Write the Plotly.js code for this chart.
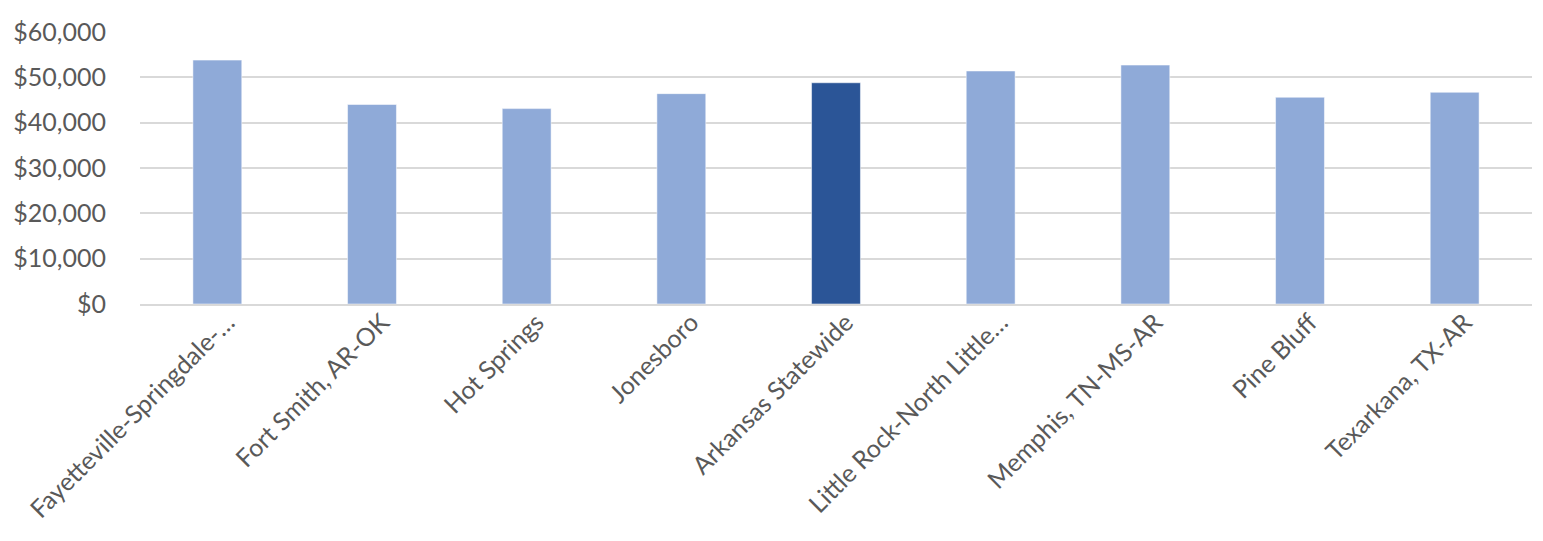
<!DOCTYPE html>
<html>
<head>
<meta charset="utf-8">
<script src="https://cdn.plot.ly/plotly-3.0.1.min.js"></script>
<style>html,body{margin:0;padding:0;background:#fff;}#chart{width:1543px;height:541px;}</style>
</head>
<body>
<div id="chart"></div>
<script>
const categories = ["Fayetteville-Springdale-…", "Fort Smith, AR-OK", "Hot Springs", "Jonesboro", "Arkansas Statewide", "Little Rock-North Little…", "Memphis, TN-MS-AR", "Pine Bluff", "Texarkana, TX-AR"];
const values = [53800, 44000, 43100, 46400, 48800, 51400, 52700, 45600, 46700];
const highlight = "Arkansas Statewide";
const tickValues = [0, 10000, 20000, 30000, 40000, 50000, 60000];
const tickLabels = ["$0", "$10,000", "$20,000", "$30,000", "$40,000", "$50,000", "$60,000"];

const colors = categories.map(c => c === highlight ? "#2b5597" : "#8faad8");

const trace = {
  type: "bar",
  x: categories,
  y: values,
  marker: { color: colors, line: { color: "rgba(255,255,255,0.5)", width: 1 } },
  hoverinfo: "x+y"
};

const layout = {
  width: 1543, height: 541,
  margin: { l: 140, r: 11, t: 32, b: 237 },
  paper_bgcolor: "#fff", plot_bgcolor: "#fff",
  bargap: 0.684,
  showlegend: false,
  font: { family: "Lato, 'Open Sans', sans-serif", color: "#595959", size: 25 },
  xaxis: {
    type: "category",
    tickangle: -45,
    showgrid: false,
    showline: true, linecolor: "#d9d9d9", linewidth: 2,
    ticks: "", tickfont: { size: 25, color: "#595959" },
    ticklabelstandoff: -8, ticklabelshift: 10,
    automargin: false
  },
  yaxis: {
    range: [0, 60000],
    tickvals: tickValues, ticktext: tickLabels,
    showgrid: true, gridcolor: "#d9d9d9", gridwidth: 2,
    zeroline: false, showline: false,
    ticks: "", ticklabelstandoff: 33,
    tickfont: { size: 25, color: "#595959" },
    automargin: false
  }
};

Plotly.newPlot("chart", [trace], layout, { displayModeBar: false, staticPlot: true });
</script>
</body>
</html>
